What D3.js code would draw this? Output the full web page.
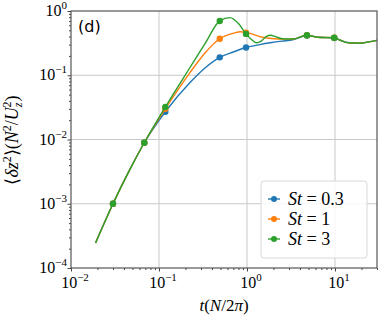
<!DOCTYPE html>
<html>
<head>
<meta charset="utf-8">
<script src="https://cdn.jsdelivr.net/npm/d3@7"></script>
<style>
  body { margin: 0; background: #fff; }
  svg text { font-family: "Liberation Serif", serif; }
</style>
</head>
<body>
<div id="root"></div>
<script>
const width = 382;
const height = 320;
const margin = {top: 11, right: 5, bottom: 52, left: 71};

// series data
const tBlue = [0.019, 0.03, 0.045, 0.068, 0.118, 0.225, 0.333, 0.49, 0.7, 0.975, 1.4, 1.83, 2.5, 3.3, 4.8, 6.4, 9.8, 11.3, 14.2, 19.3, 24, 30];
const vBlue = [2.45e-4, 1e-3, 3.1e-3, 8.9e-3, 0.027, 0.077, 0.13, 0.19, 0.23, 0.27, 0.30, 0.32, 0.34, 0.355, 0.415, 0.39, 0.38, 0.354, 0.32, 0.315, 0.33, 0.35];

const tOrange = [0.019, 0.03, 0.045, 0.068, 0.118, 0.225, 0.333, 0.49, 0.7, 0.85, 0.975, 1.2, 1.5, 2.0, 2.6, 3.3, 4.8, 6.4, 9.8, 11.3, 14.2, 19.3, 24, 30];
const vOrange = [2.45e-4, 1e-3, 3.1e-3, 8.9e-3, 0.030, 0.11, 0.222, 0.37, 0.45, 0.475, 0.46, 0.43, 0.39, 0.37, 0.365, 0.366, 0.42, 0.39, 0.384, 0.354, 0.32, 0.315, 0.33, 0.35];

const tGreen = [0.019, 0.03, 0.045, 0.068, 0.118, 0.225, 0.333, 0.49, 0.64, 0.8, 0.975, 1.15, 1.28, 1.45, 1.65, 1.85, 2.1, 2.5, 3.3, 4.8, 6.4, 9.8, 11.3, 14.2, 19.3, 24, 30];
const vGreen = [2.45e-4, 1e-3, 3.1e-3, 8.9e-3, 0.032, 0.132, 0.31, 0.70, 0.79, 0.64, 0.44, 0.35, 0.32, 0.34, 0.40, 0.42, 0.40, 0.37, 0.366, 0.42, 0.39, 0.384, 0.354, 0.32, 0.315, 0.33, 0.35];

// marker positions
const tMarks = [0.03, 0.068, 0.118, 0.49, 0.975, 4.8, 9.8];
const mBlue = [1e-3, 8.9e-3, 0.027, 0.19, 0.27, 0.415, 0.38];
const mOrange = [1e-3, 8.9e-3, 0.030, 0.37, 0.46, 0.42, 0.384];
const mGreen = [1e-3, 8.9e-3, 0.032, 0.70, 0.44, 0.42, 0.384];

const labels = ['0.3', '1', '3'];
const colors = ['#1f77b4', '#ff7f0e', '#2ca02c'];

const xTicks = [1e-2, 1e-1, 1e0, 1e1];
const yTicks = [1e-4, 1e-3, 1e-2, 1e-1, 1e0];

const series = [
    {t: tBlue, v: vBlue, m: mBlue},
    {t: tOrange, v: vOrange, m: mOrange},
    {t: tGreen, v: vGreen, m: mGreen}
];

const x = d3.scaleLog().domain([0.01, 30]).range([margin.left, width - margin.right]);
const y = d3.scaleLog().domain([1e-4, 1]).range([height - margin.bottom, margin.top]);

const svg = d3.select('#root').append('svg')
    .attr('width', width)
    .attr('height', height);

// grid
svg.append('g').selectAll('line').data(xTicks.slice(1))
    .join('line')
    .attr('x1', d => x(d)).attr('x2', d => x(d))
    .attr('y1', margin.top).attr('y2', height - margin.bottom)
    .attr('stroke', '#c8c8c8').attr('stroke-width', 1);
svg.append('g').selectAll('line').data(yTicks.slice(1, -1))
    .join('line')
    .attr('y1', d => y(d)).attr('y2', d => y(d))
    .attr('x1', margin.left).attr('x2', width - margin.right)
    .attr('stroke', '#c8c8c8').attr('stroke-width', 1);

// axes with minor ticks
const xAxis = d3.axisBottom(x).tickSizeInner(0).tickSizeOuter(0).tickFormat('');
const gx = svg.append('g').attr('transform', `translate(0,${height - margin.bottom})`).call(xAxis);
gx.selectAll('.tick line').attr('y2', d => xTicks.includes(d) ? 3.5 : 2).attr('stroke', '#444');
gx.select('.domain').remove();

const yAxis = d3.axisLeft(y).tickSizeInner(0).tickSizeOuter(0).tickFormat('');
const gy = svg.append('g').attr('transform', `translate(${margin.left},0)`).call(yAxis);
gy.selectAll('.tick line').attr('x2', d => yTicks.some(t => Math.abs(t - d) < t * 1e-6) ? -3.5 : -2).attr('stroke', '#444');
gy.select('.domain').remove();

// tick labels like 10^n
function powLabel(sel, d) {
    const e = Math.round(Math.log10(d));
    sel.append('tspan').text('10');
    sel.append('tspan').attr('dy', -7).attr('font-size', 11).text(e < 0 ? '\u2212' + (-e) : e);
}
xTicks.forEach(d => {
    const t = svg.append('text')
        .attr('x', x(d) + 4).attr('y', 288)
        .attr('text-anchor', 'middle').attr('font-size', 16);
    powLabel(t, d);
});
yTicks.forEach(d => {
    const t = svg.append('text')
        .attr('x', 67).attr('y', y(d) + 5)
        .attr('text-anchor', 'end').attr('font-size', 16);
    powLabel(t, d);
});

// lines and markers
const line = d3.line()
    .x(d => x(d[0]))
    .y(d => y(d[1]))
    .curve(d3.curveMonotoneX);

series.forEach((s, i) => {
    const pts = s.t.map((t, j) => [t, s.v[j]]);
    svg.append('path')
        .attr('d', line(pts))
        .attr('fill', 'none')
        .attr('stroke', colors[i])
        .attr('stroke-width', 1.4);
    svg.append('g').selectAll('circle')
        .data(tMarks.map((t, j) => [t, s.m[j]]))
        .join('circle')
        .attr('cx', d => x(d[0]))
        .attr('cy', d => y(d[1]))
        .attr('r', 3.2)
        .attr('fill', colors[i]);
});

// frame
svg.append('rect')
    .attr('x', margin.left).attr('y', margin.top)
    .attr('width', width - margin.left - margin.right)
    .attr('height', height - margin.top - margin.bottom)
    .attr('fill', 'none').attr('stroke', '#555').attr('stroke-width', 1.2);

// panel label
svg.append('text')
    .attr('x', 78).attr('y', 32)
    .style('font-family', '"DejaVu Sans", sans-serif')
    .attr('font-size', 16)
    .text('(d)');

// legend
const lg = svg.append('g');
lg.append('rect')
    .attr('x', 261).attr('y', 181).attr('width', 106).attr('height', 77)
    .attr('rx', 3).attr('fill', 'white').attr('fill-opacity', 0.85)
    .attr('stroke', '#d8d8d8');
labels.forEach((lab, i) => {
    const yy = 199 + i * 20;
    lg.append('line')
        .attr('x1', 268).attr('x2', 280).attr('y1', yy).attr('y2', yy)
        .attr('stroke', colors[i]).attr('stroke-width', 1.4);
    lg.append('circle').attr('cx', 274).attr('cy', yy).attr('r', 3).attr('fill', colors[i]);
    const t = lg.append('text').attr('x', 288).attr('y', yy + 6).attr('font-size', 18);
    t.append('tspan').attr('font-style', 'italic').text('St');
    t.append('tspan').text(' = ' + lab);
});

// x label
const xl = svg.append('text')
    .attr('x', 224).attr('y', 311)
    .attr('text-anchor', 'middle').attr('font-size', 17);
xl.append('tspan').attr('font-style', 'italic').text('t');
xl.append('tspan').text('(');
xl.append('tspan').attr('font-style', 'italic').text('N');
xl.append('tspan').text('/2');
xl.append('tspan').attr('font-style', 'italic').text('\u03c0');
xl.append('tspan').text(')');

// y label
const yl = svg.append('text')
    .attr('transform', 'translate(18,140) rotate(-90)')
    .attr('text-anchor', 'middle').attr('font-size', 18);
yl.append('tspan').text('\u27e8');
yl.append('tspan').attr('font-style', 'italic').text('\u03b4z');
yl.append('tspan').attr('dy', -7).attr('font-size', 12).text('2');
yl.append('tspan').attr('dy', 7).text('\u27e9(');
yl.append('tspan').attr('font-style', 'italic').text('N');
yl.append('tspan').attr('dy', -7).attr('font-size', 12).text('2');
yl.append('tspan').attr('dy', 7).text('/');
yl.append('tspan').attr('font-style', 'italic').text('U');
yl.append('tspan').attr('dy', 4).attr('font-size', 12).attr('font-style', 'italic').text('z');
yl.append('tspan').attr('dy', -11).attr('dx', -5).attr('font-size', 12).text('2');
yl.append('tspan').attr('dy', 7).text(')');
</script>
</body>
</html>
